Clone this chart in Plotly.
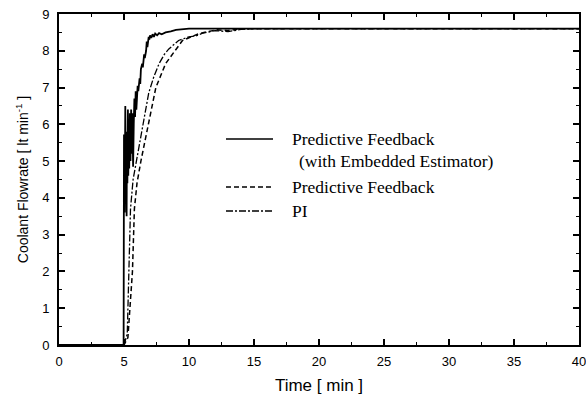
import plotly.graph_objects as go

# ---- data ----
t_pfe = [0, 4.97, 5.0, 5.02, 5.05, 5.08, 5.1, 5.13, 5.16, 5.2, 5.23, 5.26, 5.3, 5.33, 5.37, 5.4,
         5.45, 5.5, 5.55, 5.6, 5.65, 5.7, 5.75, 5.8, 5.85, 5.9, 5.95, 6.05, 6.1, 6.2, 6.25, 6.3,
         6.4, 6.45, 6.55, 6.6, 6.7, 6.75, 6.8, 6.9, 6.95, 7.0, 7.1, 7.2, 7.3, 7.4, 7.55, 7.7,
         7.9, 8.2, 8.6, 9.0, 10.0, 12.0, 40.0]
v_pfe = [0, 0, 5.7, 5.7, 3.6, 5.7, 6.5, 4.2, 5.7, 3.5, 5.8, 4.4, 6.4, 4.6, 6.0, 4.8,
         6.3, 5.0, 6.4, 5.2, 6.3, 4.85, 6.0, 6.7, 6.2, 6.9, 6.4, 7.05, 6.9, 7.25, 7.1, 7.5,
         7.65, 7.55, 7.9, 7.8, 8.0, 8.25, 8.1, 8.38, 8.3, 8.42, 8.35, 8.45, 8.38, 8.47, 8.42, 8.48,
         8.45, 8.5, 8.53, 8.57, 8.6, 8.6, 8.6]

t_pf = [0, 5.0, 5.3, 5.45, 5.65, 5.8, 6.0, 6.3, 6.65, 6.9, 7.45, 8.2, 9.0, 9.5, 10.8, 12.1,
        13.0, 14.0, 16.0, 40.0]
v_pf = [0, 0, 0.2, 1.0, 2.0, 3.7, 4.4, 5.0, 5.6, 6.1, 7.0, 7.65, 8.05, 8.28, 8.47, 8.57,
        8.55, 8.6, 8.6, 8.6]

t_pi = [0, 5.0, 5.25, 5.4, 5.5, 5.7, 5.95, 6.2, 6.55, 6.9, 7.3, 7.7, 8.1, 8.45, 9.2, 10.0,
        10.5, 11.0, 12.0, 13.0, 14.0, 15.0, 40.0]
v_pi = [0, 0, 0.3, 2.0, 3.7, 4.5, 5.0, 5.45, 6.2, 6.85, 7.3, 7.65, 7.9, 8.05, 8.28, 8.38,
        8.4, 8.47, 8.55, 8.52, 8.58, 8.6, 8.6]

legend_labels = ["Predictive Feedback", "(with Embedded Estimator)", "Predictive Feedback", "PI"]
x_title = "Time [ min ]"
y_title = "Coolant Flowrate [ lt min<sup>-1</sup> ]"

fig = go.Figure()
fig.add_trace(go.Scatter(x=t_pi, y=v_pi, mode="lines",
                         line=dict(color="black", width=1.3, dash="7px,2px,2px,2px")))
fig.add_trace(go.Scatter(x=t_pf, y=v_pf, mode="lines",
                         line=dict(color="black", width=1.5, dash="5px,3px")))
fig.add_trace(go.Scatter(x=t_pfe, y=v_pfe, mode="lines",
                         line=dict(color="black", width=1.8)))

# plot area in pixels: x 59..579, y 14..345
L, R, T, B = 59, 579, 14, 345
W, H = R - L, B - T
def px(X):
    return (X - L) / W
def py(Y):
    return (B - Y) / H

serif = "Liberation Serif, Times New Roman, serif"
legend_rows = [  # (line y, dash, text, text x)
    (139, "solid", legend_labels[0], 290),
    (187, "5px,3px", legend_labels[2], 290),
    (211, "7px,2px,2px,2px", legend_labels[3], 290),
]
for ly, dash, txt, tx in legend_rows:
    fig.add_shape(type="line", xref="paper", yref="paper",
                  x0=px(226), x1=px(273), y0=py(ly), y1=py(ly),
                  line=dict(color="black", width=1.6 if dash == "solid" else 1.4, dash=dash))
    fig.add_annotation(xref="paper", yref="paper", x=px(tx), y=py(ly), text=txt,
                       showarrow=False, xanchor="left", yanchor="middle",
                       font=dict(family=serif, size=17.5, color="black"))
fig.add_annotation(xref="paper", yref="paper", x=px(297), y=py(161), text=legend_labels[1],
                   showarrow=False, xanchor="left", yanchor="middle",
                   font=dict(family=serif, size=17.5, color="black"))

axis_common = dict(showline=True, linecolor="black", linewidth=2, mirror="allticks",
                   ticks="inside", ticklen=6, tickwidth=1.5, tickcolor="black",
                   showgrid=False, zeroline=False, automargin=False,
                   ticklabeloverflow="allow",
                   tickfont=dict(family="Liberation Sans, Arial, sans-serif", size=13, color="black"))
fig.update_xaxes(range=[0, 40], dtick=5, tick0=0, ticklabelstandoff=3,
                 minor=dict(dtick=2.5, ticks="inside", ticklen=3, tickwidth=1.2, tickcolor="black"),
                 title=dict(text=x_title, standoff=12,
                            font=dict(family="Liberation Sans, Arial, sans-serif", size=17, color="black")),
                 **axis_common)
fig.update_yaxes(range=[0, 9], dtick=1, tick0=0, ticklabelstandoff=5,
                 minor=dict(dtick=0.5, ticks="inside", ticklen=3, tickwidth=1.2, tickcolor="black"),
                 title=dict(text=y_title, standoff=10,
                            font=dict(family="Liberation Sans, Arial, sans-serif", size=14, color="black")),
                 **axis_common)

fig.update_layout(width=586, height=402, margin=dict(l=L, r=586 - R, t=T, b=402 - B),
                  paper_bgcolor="white", plot_bgcolor="white", showlegend=False)

fig.write_html("out.html", config={"displayModeBar": False})
